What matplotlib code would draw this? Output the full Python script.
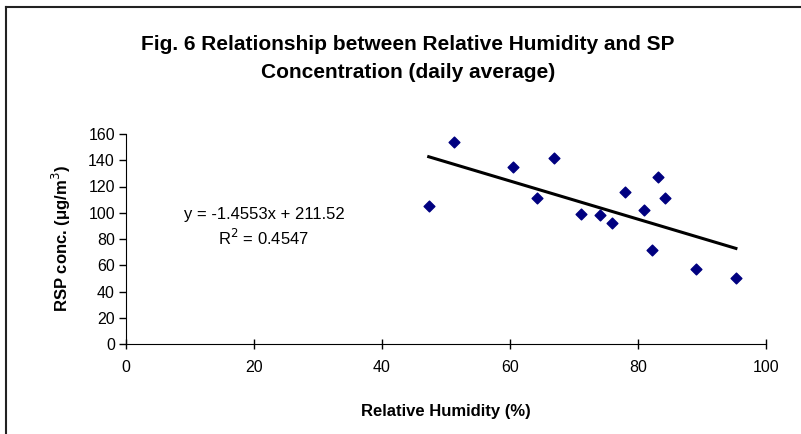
import matplotlib
matplotlib.use("Agg")
import matplotlib.pyplot as plt
from matplotlib.lines import Line2D
import numpy as np

# data
humidity = [47.3, 51.2, 60.4, 66.9, 64.2, 71.1, 74.1, 76.0, 78.0, 80.9, 83.2, 84.2, 82.2, 89.1, 95.3]
rsp_conc = [105, 154, 135, 142, 111, 99, 98, 92, 116, 102, 127, 111, 72, 57, 50]
slope = -1.4553
intercept = 211.52
r_squared = 0.4547
x_ticks = [0, 20, 40, 60, 80, 100]
y_ticks = [0, 20, 40, 60, 80, 100, 120, 140, 160]

plt.rcParams["font.family"] = ["Liberation Sans", "DejaVu Sans"]

W, H = 801, 434
fig = plt.figure(figsize=(W / 100, H / 100), dpi=100)
ax = fig.add_axes([126 / W, 1 - 344 / H, 640 / W, 210 / H])

ax.scatter(humidity, rsp_conc, marker="D", s=30, color="#000080", zorder=3)

# linear trendline over the data range
xs = np.array([min(humidity), max(humidity)])
ax.plot(xs, slope * xs + intercept, color="black", lw=2.2, zorder=2)

ax.set_xlim(0, 100)
ax.set_ylim(0, 160)
ax.set_xticks(x_ticks)
ax.set_yticks(y_ticks)
ax.spines["top"].set_visible(False)
ax.spines["right"].set_visible(False)
ax.tick_params(axis="x", direction="inout", length=7, width=1, labelsize=11.5, pad=8)
ax.tick_params(axis="y", direction="out", length=5, width=1, labelsize=11.5, pad=3)

ax.set_xlabel("Relative Humidity (%)", fontweight="bold", fontsize=12, labelpad=21)
ax.set_ylabel("RSP conc. (μg/m$^3$)", fontweight="bold", fontsize=12, labelpad=11)

ax.text(264 / W, 1 - 215 / H, f"y = {slope}x + {intercept:.2f}", transform=fig.transFigure,
        fontsize=12, ha="center", va="center")
ax.text(264 / W, 1 - 238 / H, f"R$^2$ = {r_squared}", transform=fig.transFigure,
        fontsize=12, ha="center", va="center")

fig.text(408 / W, 1 - 45 / H, "Fig. 6 Relationship between Relative Humidity and SP",
         fontweight="bold", fontsize=15, ha="center", va="center")
fig.text(408 / W, 1 - 73 / H, "Concentration (daily average)",
         fontweight="bold", fontsize=15, ha="center", va="center")

# chart border (top and left visible)
fig.add_artist(Line2D([6 / W, 1], [1 - 7 / H, 1 - 7 / H], color="#222222", lw=1.5))
fig.add_artist(Line2D([6 / W, 6 / W], [0, 1 - 7 / H], color="#222222", lw=1.5))

fig.savefig("out.png", dpi=100)
